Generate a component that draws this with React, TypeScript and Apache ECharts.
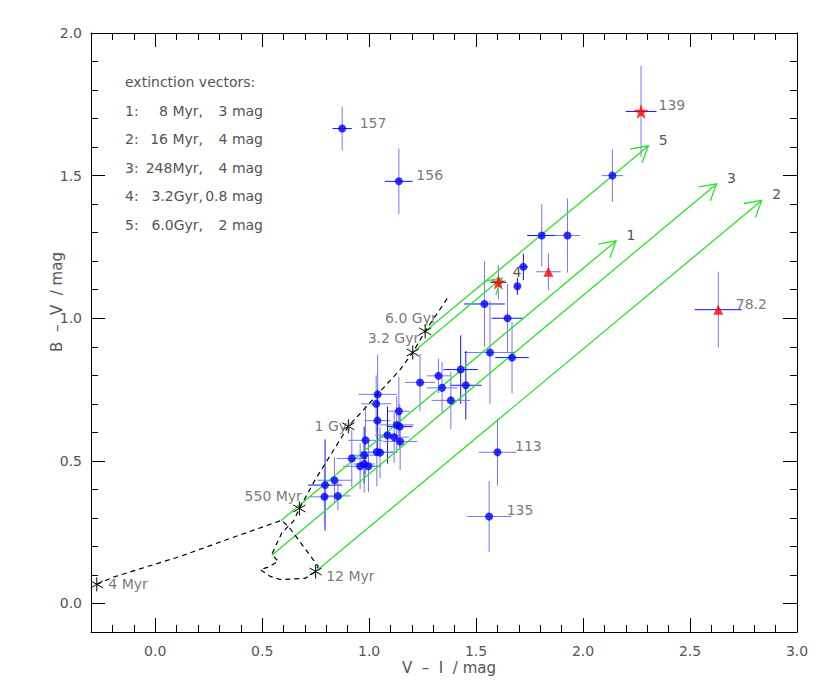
import React, { useEffect, useRef } from "react";
import * as echarts from "echarts";

// ---------- axes ----------
const X_MIN = -0.3;
const X_MAX = 3.0;
const Y_MIN = -0.1;
const Y_MAX = 2.0;
const xMajorTicks = [0, 0.5, 1, 1.5, 2, 2.5, 3];
const xMinorTicks = [-0.2, -0.1, 0.1, 0.2, 0.3, 0.4, 0.6, 0.7, 0.8, 0.9, 1.1, 1.2, 1.3, 1.4, 1.6, 1.7, 1.8, 1.9, 2.1, 2.2, 2.3, 2.4, 2.6, 2.7, 2.8, 2.9];
const yMajorTicks = [0, 0.5, 1, 1.5, 2];
const yMinorTicks = [0.1, 0.2, 0.3, 0.4, 0.6, 0.7, 0.8, 0.9, 1.1, 1.2, 1.3, 1.4, 1.6, 1.7, 1.8, 1.9];

// ---------- clusters (blue dots) ----------
const clusterVI = [0.874, 1.139, 2.137, 1.807, 1.927, 1.721, 1.693, 1.539, 1.647, 1.565, 1.668, 1.428, 1.452, 1.324, 1.341, 1.382, 1.238, 1.600, 1.561, 1.040, 1.033, 1.039, 1.139, 1.129, 1.143, 1.086, 1.117, 1.145, 0.983, 0.977, 1.036, 1.051, 0.919, 0.958, 0.977, 0.997, 0.838, 0.794, 0.791, 0.854];
const clusterBV = [1.665, 1.480, 1.500, 1.290, 1.290, 1.180, 1.112, 1.050, 1.000, 0.880, 0.862, 0.820, 0.765, 0.798, 0.756, 0.712, 0.775, 0.530, 0.305, 0.733, 0.700, 0.641, 0.674, 0.626, 0.620, 0.590, 0.583, 0.568, 0.572, 0.520, 0.531, 0.529, 0.508, 0.481, 0.489, 0.481, 0.432, 0.415, 0.374, 0.377];
const clusterErrVI = [0.045, 0.065, 0.05, 0.068, 0.06, 0.022, 0.008, 0.095, 0.075, 0.12, 0.078, 0.08, 0.074, 0.055, 0.072, 0.09, 0.07, 0.088, 0.104, 0.09, 0.07, 0.06, 0.05, 0.08, 0.06, 0.06, 0.07, 0.08, 0.08, 0.07, 0.08, 0.06, 0.07, 0.08, 0.05, 0.06, 0.08, 0.08, 0.07, 0.06];
const clusterErrBV = [0.077, 0.115, 0.092, 0.11, 0.13, 0.047, 0.03, 0.15, 0.12, 0.18, 0.125, 0.12, 0.12, 0.06, 0.09, 0.1, 0.1, 0.117, 0.124, 0.14, 0.1, 0.1, 0.12, 0.1, 0.08, 0.1, 0.09, 0.1, 0.12, 0.1, 0.12, 0.09, 0.1, 0.08, 0.1, 0.09, 0.08, 0.16, 0.1, 0.05];
// 1 = darker error-bar tone (horizontal / vertical)
const clusterToneH = [1, 1, 0, 1, 0, 1, 1, 1, 1, 0, 1, 1, 1, 0, 0, 0, 0, 0, 0, 0, 0, 0, 0, 0, 1, 0, 0, 0, 0, 0, 0, 0, 0, 0, 0, 0, 0, 1, 0, 0];
const clusterToneV = [0, 0, 0, 0, 0, 1, 1, 0, 0, 0, 0, 1, 1, 0, 0, 0, 0, 0, 0, 0, 0, 1, 0, 0, 0, 1, 0, 0, 0, 1, 0, 0, 0, 0, 0, 0, 0, 1, 0, 0];

// ---------- red stars ----------
const starVI = [1.604, 2.271];
const starBV = [1.126, 1.725];
const starErrVI = [0.038, 0.072];
const starErrBV = [0.06, 0.16];
const starToneH = [1, 1];
const starToneV = [0, 0];

// ---------- red triangles ----------
const triVI = [1.838, 2.632];
const triBV = [1.163, 1.030];
const triErrVI = [0.057, 0.11];
const triErrBV = [0.065, 0.133];
const triToneH = [0, 1];
const triToneV = [0, 0];

// ---------- point annotations ----------
const labelText = ["157", "156", "139", "78.2", "113", "135"];
const labelVI = [0.874, 1.139, 2.271, 2.632, 1.600, 1.561];
const labelBV = [1.665, 1.480, 1.725, 1.030, 0.530, 0.305];

// ---------- isochrone ----------
const isoVI = [-0.273, -0.201, 0.117, 0.350, 0.592, 0.631, 0.762, 0.750, 0.701, 0.584, 0.537, 0.491, 0.530, 0.575, 0.545, 0.592, 0.646, 0.674, 0.748, 0.864, 0.903, 1.145, 1.204, 1.262, 1.371];
const isoBV = [0.067, 0.091, 0.165, 0.228, 0.292, 0.262, 0.130, 0.112, 0.088, 0.084, 0.095, 0.119, 0.128, 0.148, 0.172, 0.248, 0.288, 0.333, 0.434, 0.574, 0.621, 0.820, 0.880, 0.954, 1.076];

const ageText = ["4 Myr", "12 Myr", "550 Myr", "1 Gyr", "3.2 Gyr", "6.0 Gyr"];
const ageVI = [-0.273, 0.750, 0.674, 0.903, 1.204, 1.262];
const ageBV = [0.067, 0.112, 0.333, 0.621, 0.880, 0.954];
// label placement (style only)
const agePlacement = [
  { pos: "right", dist: 11, dy: 0 },
  { pos: "right", dist: 10, dy: 4 },
  { pos: "left", dist: -3, dy: -12 },
  { pos: "left", dist: -5, dy: 0 },
  { pos: "left", dist: -7, dy: -14 },
  { pos: "left", dist: -12, dy: -13 },
];

// ---------- extinction vectors ----------
const vecId = ["1", "2", "3", "4", "5"];
const vecStartVI = [0.589, 0.750, 0.545, 1.204, 1.262];
const vecStartBV = [0.291, 0.112, 0.169, 0.880, 0.954];
const vecEndVI = [2.154, 2.835, 2.624, 1.621, 2.305];
const vecEndBV = [1.271, 1.413, 1.471, 1.141, 1.604];
const vecAge = ["8 Myr,", "16 Myr,", "248Myr,", "3.2Gyr,", "6.0Gyr,"];
const vecMag = ["3 mag", "4 mag", "4 mag", "0.8 mag", "2 mag"];

const FONT = "DejaVu Sans";
const TXT = "#555555";
const LIGHT = "#7474ff";
const DARK = "#1010ff";
const GREEN = "#26e626";
const STAR_PATH = "path://M50,0 L61,35 L98,35 L68,57 L79,91 L50,70 L21,91 L32,57 L2,35 L39,35 Z";

export default function App() {
  const ref = useRef<HTMLDivElement>(null);

  useEffect(() => {
    document.body.style.margin = "0";
    const chart = echarts.init(ref.current as HTMLDivElement, null, { renderer: "svg" });

    const errData: number[][] = [];
    clusterVI.forEach((v, i) => errData.push([v, clusterBV[i], clusterErrVI[i], clusterErrBV[i], clusterToneH[i], clusterToneV[i]]));
    starVI.forEach((v, i) => errData.push([v, starBV[i], starErrVI[i], starErrBV[i], starToneH[i], starToneV[i]]));
    triVI.forEach((v, i) => errData.push([v, triBV[i], triErrVI[i], triErrBV[i], triToneH[i], triToneV[i]]));

    const vecData = vecId.map((_, i) => [vecStartVI[i], vecStartBV[i], vecEndVI[i], vecEndBV[i]]);

    const mkX = (position: string, major: boolean) => ({
      type: "value",
      min: X_MIN,
      max: X_MAX,
      position,
      axisLine: { show: major, onZero: false, lineStyle: { color: "#000", width: 1 } },
      axisTick: {
        show: true,
        inside: true,
        length: major ? 14 : 7,
        customValues: major ? xMajorTicks : xMinorTicks,
        lineStyle: { color: "#000", width: 1 },
      },
      axisLabel: {
        show: major && position === "bottom",
        customValues: xMajorTicks,
        formatter: (v: number) => v.toFixed(1),
        margin: 12,
        color: TXT,
        fontSize: 14,
        fontFamily: FONT,
      },
      splitLine: { show: false },
    });
    const mkY = (position: string, major: boolean) => ({
      type: "value",
      min: Y_MIN,
      max: Y_MAX,
      position,
      axisLine: { show: major, onZero: false, lineStyle: { color: "#000", width: 1 } },
      axisTick: {
        show: true,
        inside: true,
        length: major ? 14 : 7,
        customValues: major ? yMajorTicks : yMinorTicks,
        lineStyle: { color: "#000", width: 1 },
      },
      axisLabel: {
        show: major && position === "left",
        customValues: yMajorTicks,
        formatter: (v: number) => v.toFixed(1),
        margin: 9,
        color: TXT,
        fontSize: 14,
        fontFamily: FONT,
      },
      splitLine: { show: false },
    });

    const LF = `14px '${FONT}'`;
    const legendGraphics: any[] = [
      {
        type: "text",
        x: 125,
        y: 82,
        style: { text: "extinction vectors:", font: LF, fill: TXT, textAlign: "left", align: "left", textVerticalAlign: "middle", verticalAlign: "middle" },
      },
    ];
    vecId.forEach((id, i) => {
      const y = 110.5 + i * 28.5;
      legendGraphics.push({
        type: "text",
        x: 125,
        y,
        style: { text: id + ":", font: LF, fill: TXT, textAlign: "left", align: "left", textVerticalAlign: "middle", verticalAlign: "middle" },
      });
      legendGraphics.push({
        type: "text",
        x: 203,
        y,
        style: { text: vecAge[i], font: LF, fill: TXT, textAlign: "right", align: "right", textVerticalAlign: "middle", verticalAlign: "middle" },
      });
      legendGraphics.push({
        type: "text",
        x: 263,
        y,
        style: { text: vecMag[i], font: LF, fill: TXT, textAlign: "right", align: "right", textVerticalAlign: "middle", verticalAlign: "middle" },
      });
    });

    const option: any = {
      animation: false,
      backgroundColor: "#ffffff",
      grid: { left: 91, right: 33, top: 33, bottom: 59, containLabel: false },
      xAxis: [mkX("bottom", true), mkX("bottom", false), mkX("top", true), mkX("top", false)],
      yAxis: [mkY("left", true), mkY("left", false), mkY("right", true), mkY("right", false)],
      graphic: [
        {
          type: "text",
          x: 449,
          y: 668,
          style: {
            text: "V \u00a0\u2013\u00a0 I \u00a0/ mag",
            font: `15px '${FONT}'`,
            fill: TXT,
            textAlign: "center",
            align: "center",
            textVerticalAlign: "middle",
            verticalAlign: "middle",
          },
        },
        {
          type: "text",
          x: 57,
          y: 302,
          rotation: Math.PI / 2,
          style: {
            text: "B \u00a0\u2013\u00a0 V \u00a0/ mag",
            font: `15px '${FONT}'`,
            fill: TXT,
            textAlign: "center",
            align: "center",
            textVerticalAlign: "middle",
            verticalAlign: "middle",
          },
        },
        ...legendGraphics,
      ],
      series: [
        {
          type: "custom",
          name: "errors",
          xAxisIndex: 0,
          yAxisIndex: 0,
          silent: true,
          z: 1,
          data: errData,
          renderItem: (_p: any, api: any) => {
            const x = api.value(0), y = api.value(1), ex = api.value(2), ey = api.value(3);
            const th = api.value(4), tv = api.value(5);
            const a = api.coord([x - ex, y]);
            const b = api.coord([x + ex, y]);
            const c = api.coord([x, y - ey]);
            const d = api.coord([x, y + ey]);
            return {
              type: "group",
              children: [
                { type: "line", shape: { x1: a[0], y1: a[1], x2: b[0], y2: b[1] }, style: { stroke: th ? DARK : LIGHT, lineWidth: 1 } },
                { type: "line", shape: { x1: c[0], y1: c[1], x2: d[0], y2: d[1] }, style: { stroke: tv ? DARK : LIGHT, lineWidth: 1 } },
              ],
            };
          },
        },
        {
          type: "custom",
          name: "vectors",
          xAxisIndex: 0,
          yAxisIndex: 0,
          silent: true,
          z: 2,
          data: vecData,
          renderItem: (params: any, api: any) => {
            const p0 = api.coord([api.value(0), api.value(1)]);
            const p1 = api.coord([api.value(2), api.value(3)]);
            const ang = Math.atan2(p1[1] - p0[1], p1[0] - p0[0]);
            const L = 18;
            const A = Math.PI / 6;
            const h1 = [p1[0] - L * Math.cos(ang - A), p1[1] - L * Math.sin(ang - A)];
            const h2 = [p1[0] - L * Math.cos(ang + A), p1[1] - L * Math.sin(ang + A)];
            return {
              type: "group",
              children: [
                { type: "line", shape: { x1: p0[0], y1: p0[1], x2: p1[0], y2: p1[1] }, style: { stroke: GREEN, lineWidth: 1.3 } },
                { type: "polyline", shape: { points: [h1, p1, h2] }, style: { stroke: GREEN, lineWidth: 1.3, fill: "none" } },
                {
                  type: "text",
                  x: p1[0] + 15,
                  y: p1[1] - 6,
                  style: {
                    text: vecId[params.dataIndex],
                    font: `14px '${FONT}'`,
                    fill: TXT,
                    textAlign: "center",
                    align: "center",
                    textVerticalAlign: "middle",
                    verticalAlign: "middle",
                  },
                },
              ],
            };
          },
        },
        {
          type: "line",
          name: "isochrone",
          xAxisIndex: 0,
          yAxisIndex: 0,
          silent: true,
          z: 3,
          symbol: "none",
          data: isoVI.map((v, i) => [v, isoBV[i]]),
          lineStyle: { color: "#000", width: 1.2, type: [5, 4] },
        },
        {
          type: "custom",
          name: "ages",
          xAxisIndex: 0,
          yAxisIndex: 0,
          silent: true,
          z: 4,
          data: ageVI.map((v, i) => [v, ageBV[i]]),
          renderItem: (_p: any, api: any) => {
            const c = api.coord([api.value(0), api.value(1)]);
            const r = 7;
            const angles = [Math.PI / 2, Math.PI / 6, -Math.PI / 6];
            return {
              type: "group",
              children: angles.map((t) => ({
                type: "line",
                shape: {
                  x1: c[0] - r * Math.cos(t),
                  y1: c[1] - r * Math.sin(t),
                  x2: c[0] + r * Math.cos(t),
                  y2: c[1] + r * Math.sin(t),
                },
                style: { stroke: "#000", lineWidth: 1 },
              })),
            };
          },
        },
        {
          type: "scatter",
          name: "ageLabels",
          xAxisIndex: 0,
          yAxisIndex: 0,
          silent: true,
          z: 4,
          symbolSize: 1,
          itemStyle: { color: "transparent" },
          data: ageText.map((t, i) => ({
            name: t,
            value: [ageVI[i], ageBV[i]],
            label: {
              show: true,
              position: agePlacement[i].pos,
              distance: agePlacement[i].dist,
              offset: [0, agePlacement[i].dy],
              formatter: "{b}",
              color: TXT,
              fontSize: 14,
              fontFamily: FONT,
            },
          })),
        },
        {
          type: "scatter",
          name: "clusters",
          xAxisIndex: 0,
          yAxisIndex: 0,
          z: 5,
          symbol: "circle",
          symbolSize: 8,
          itemStyle: { color: "#0000ff" },
          data: clusterVI.map((v, i) => [v, clusterBV[i]]),
        },
        {
          type: "scatter",
          name: "stars",
          xAxisIndex: 0,
          yAxisIndex: 0,
          z: 6,
          symbol: STAR_PATH,
          symbolSize: 15,
          itemStyle: { color: "#ff0000" },
          data: starVI.map((v, i) => [v, starBV[i]]),
        },
        {
          type: "scatter",
          name: "triangles",
          xAxisIndex: 0,
          yAxisIndex: 0,
          z: 6,
          symbol: "triangle",
          symbolSize: 10,
          itemStyle: { color: "#ff0000" },
          data: triVI.map((v, i) => [v, triBV[i]]),
        },
        {
          type: "scatter",
          name: "pointLabels",
          xAxisIndex: 0,
          yAxisIndex: 0,
          silent: true,
          z: 7,
          symbolSize: 1,
          itemStyle: { color: "transparent" },
          label: {
            show: true,
            position: "right",
            distance: 17,
            offset: [0, -6],
            formatter: "{b}",
            color: TXT,
            fontSize: 14,
            fontFamily: FONT,
          },
          data: labelText.map((t, i) => ({ name: t, value: [labelVI[i], labelBV[i]] })),
        },
      ],
    };

    chart.setOption(option);
    return () => chart.dispose();
  }, []);

  return <div ref={ref} style={{ width: 830, height: 691 }} />;
}
